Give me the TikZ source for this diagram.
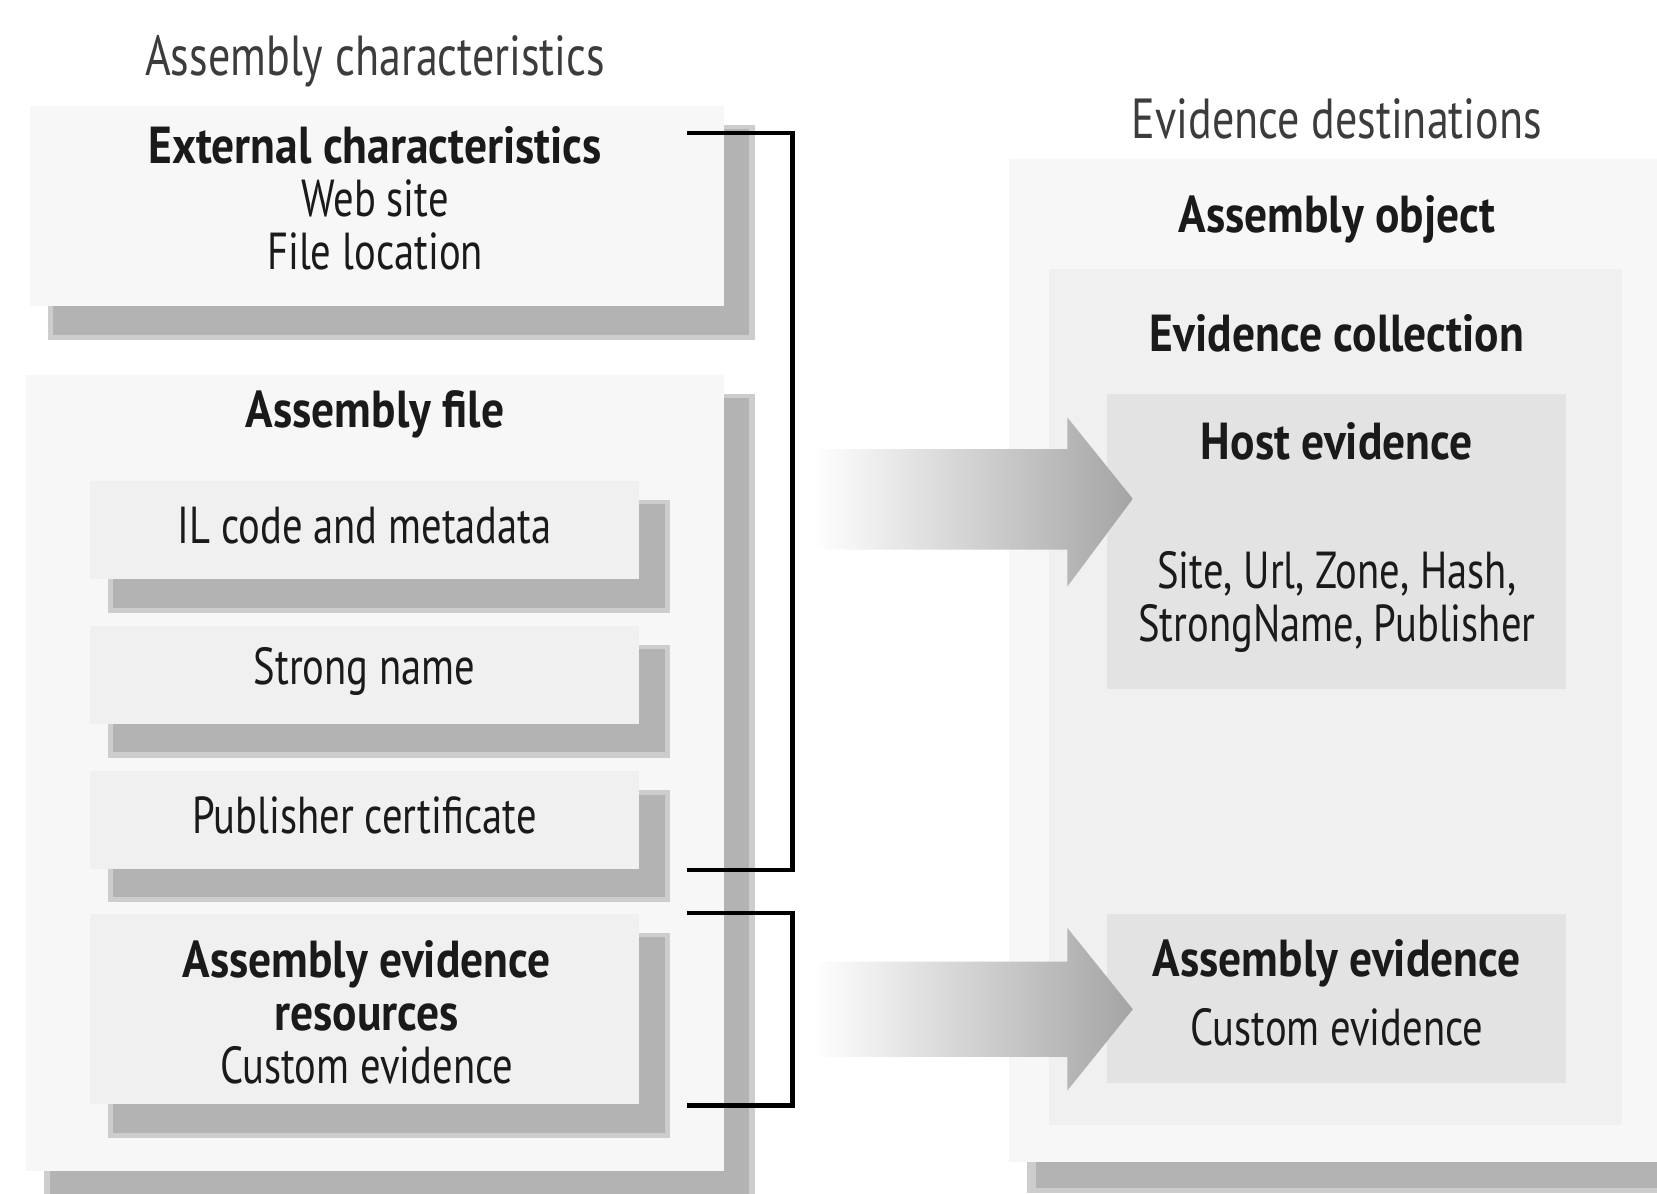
\documentclass[tikz,border=0pt]{standalone}
\usepackage{fontspec}
\setmainfont[FakeStretch=0.78,BoldFeatures={FakeStretch=0.875}]{PT Sans}
\usetikzlibrary{calc}
\definecolor{paneA}{HTML}{F7F7F7}
\definecolor{paneB}{HTML}{F0F0F0}
\definecolor{paneC}{HTML}{E3E3E3}
\definecolor{castgray}{HTML}{B3B3B3}
\definecolor{castrim}{HTML}{CDCDCD}
\definecolor{ink}{HTML}{1A1A1A}
\definecolor{arrowgray}{HTML}{A4A4A4}

% box with a drop shadow: x1, y1, x2, y2, fill colour
\newcommand\castbox[5]{%
  \fill[castrim] (#1+17,#2+18) rectangle (#3+29,#4+32);
  \fill[castgray] (#1+22,#2+22) rectangle (#3+24,#4+27);
  \fill[#5] (#1,#2) rectangle (#3,#4);}

\begin{document}
\begin{tikzpicture}[x=0.01cm,y=-0.01cm,
  txt/.style={font=\fontsize{14}{14.2}\selectfont, text=ink, align=center, inner sep=0pt},
  hd/.style={font=\fontsize{14}{14.2}\selectfont\bfseries, text=ink, align=center, inner sep=0pt},
  ttl/.style={font=\fontsize{15.2}{16}\selectfont, text=ink!85, inner sep=0pt},
  bracket/.style={draw=black, line width=1.15pt},
  flow/.style={left color=white, right color=arrowgray, shading angle=90}]
\useasboundingbox (0,0) rectangle (1568,1129);

% ---- left column: assembly characteristics ----
\node[ttl] (tleft) at (355,58) {Assembly characteristics};

\castbox{28}{100}{685}{290}{paneA}
\node[hd] (ext) at (355,138) {External characteristics};
\node[txt] (extsub) at (355,213) {Web site\\File location};

\castbox{25}{355}{685}{1108}{paneA}
\node[hd] (afile) at (355,392) {Assembly file};

\castbox{85}{455}{605}{548}{paneB}
\node[txt] (il) at (345,497) {IL code and metadata};

\castbox{85}{592}{605}{685}{paneB}
\node[txt] (sn) at (345,635) {Strong name};

\castbox{85}{730}{605}{822}{paneB}
\node[txt] (pc) at (345,772) {Publisher certificate};

\castbox{85}{865}{605}{1045}{paneB}
\node[hd] (aer) at (347,933) {Assembly evidence\\resources};
\node[txt] (aersub) at (347,1008) {Custom evidence};

% ---- brackets grouping the sources ----
\coordinate (b1t) at (650,126);
\coordinate (b1b) at (650,823);
\coordinate (b2t) at (650,864);
\coordinate (b2b) at (650,1046);
\draw[bracket] (b1t) -- ++(100,0) |- (b1b);
\draw[bracket] (b2t) -- ++(100,0) |- (b2b);

% ---- right column: evidence destinations ----
\node[ttl] (tright) at (1265,112) {Evidence destinations};

\fill[castrim] (972,1095) rectangle (1600,1129);
\fill[castgray] (980,1100) rectangle (1600,1124);
\fill[paneA] (955,150) rectangle (1600,1100);
\node[hd] (aobj) at (1265,208) {Assembly object};

\fill[paneB] (993,255) rectangle (1535,1065);
\node[hd] (ecoll) at (1265,315) {Evidence collection};

\fill[paneC] (1048,373) rectangle (1482,652);
\node[hd] (host) at (1265,418) {Host evidence};
\node[txt] (hostsub) at (1265,570) {Site, Url, Zone, Hash,\\StrongName, Publisher};

\fill[paneC] (1048,865) rectangle (1482,1025);
\node[hd] (aev) at (1265,912) {Assembly evidence};
\node[txt] (aevsub) at (1265,972) {Custom evidence};

% ---- block arrows ----
\coordinate (a1) at (770,472);
\coordinate (a2) at (770,955);
\shade[flow] (a1) ++(0,-47) -- ++(240,0) -- ++(0,-30) -- (1072,472)
  -- (1010,555) -- ++(0,-35) -- ++(-240,0) -- cycle;
\shade[flow] (a2) ++(0,-45) -- ++(240,0) -- ++(0,-32) -- (1072,955)
  -- (1010,1032) -- ++(0,-32) -- ++(-240,0) -- cycle;
\end{tikzpicture}
\end{document}
